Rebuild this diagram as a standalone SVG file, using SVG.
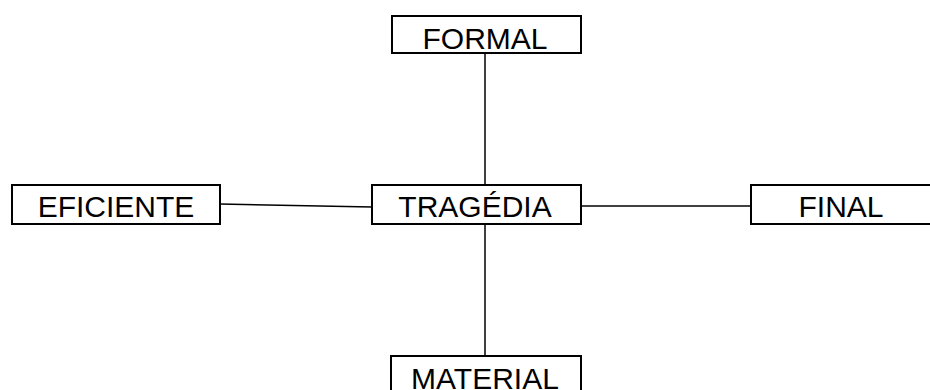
<svg xmlns="http://www.w3.org/2000/svg" width="930" height="390" viewBox="0 0 930 390">
<style>
.box{fill:#fff;stroke:#000;stroke-width:2}
.lbl{font-family:"Liberation Sans",Arial,sans-serif;font-size:30px;fill:#000;text-anchor:middle}
.con{stroke:#000;stroke-width:1.5;fill:none}
</style>
<rect width="930" height="390" fill="#fff"/>
<g id="connectors">
<line class="con" x1="485" y1="53" x2="485" y2="185"/>
<line class="con" x1="220" y1="204" x2="372" y2="207"/>
<line class="con" x1="581" y1="206" x2="751" y2="206"/>
<line class="con" x1="485" y1="224" x2="485" y2="356"/>
</g>
<g id="formal">
<rect class="box" x="392" y="16" width="189" height="37"/>
<text class="lbl" x="485" y="49">FORMAL</text>
</g>
<g id="eficiente">
<rect class="box" x="12" y="185" width="208" height="39"/>
<text class="lbl" x="116" y="217">EFICIENTE</text>
</g>
<g id="tragedia">
<rect class="box" x="372" y="185" width="209" height="39"/>
<text class="lbl" x="475" y="217">TRAGÉDIA</text>
</g>
<g id="final">
<rect class="box" x="751" y="185" width="182" height="39"/>
<text class="lbl" x="841" y="217">FINAL</text>
</g>
<g id="material">
<rect class="box" x="391" y="356" width="190" height="40"/>
<text class="lbl" x="485" y="389">MATERIAL</text>
</g>
</svg>
